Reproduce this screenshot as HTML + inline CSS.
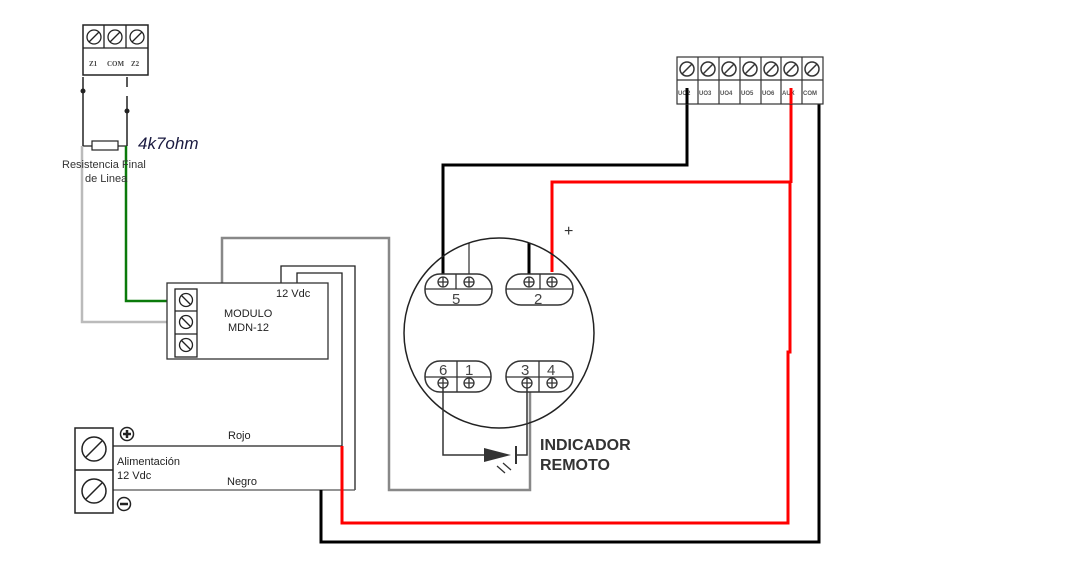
<!DOCTYPE html>
<html><head><meta charset="utf-8"><style>
html,body{margin:0;padding:0;background:#fff;width:1080px;height:586px;overflow:hidden}
svg text{font-family:"Liberation Sans",sans-serif}
</style></head><body>
<svg width="1080" height="586" viewBox="0 0 1080 586" xmlns="http://www.w3.org/2000/svg">
<rect width="1080" height="586" fill="#fff"/>
<!-- top-left terminal block -->
<g stroke="#222" fill="none" stroke-width="1.3">
<rect x="83" y="25" width="65" height="50" fill="#fff" stroke-width="1.5"/>
<line x1="83" y1="48" x2="148" y2="48"/>
<line x1="104" y1="25" x2="104" y2="48"/><line x1="126" y1="25" x2="126" y2="48"/>
<circle cx="94" cy="37" r="7"/><line x1="89" y1="42" x2="99" y2="32"/>
<circle cx="115" cy="37" r="7"/><line x1="110" y1="42" x2="120" y2="32"/>
<circle cx="137" cy="37" r="7"/><line x1="132" y1="42" x2="142" y2="32"/>
</g>
<text x="89" y="66" font-size="7" font-family="Liberation Serif" font-weight="bold" fill="#444" style="font-family:'Liberation Serif',serif">Z1</text>
<text x="107" y="66" font-size="7" font-weight="bold" fill="#444" style="font-family:'Liberation Serif',serif">COM</text>
<text x="131" y="66" font-size="7" font-weight="bold" fill="#444" style="font-family:'Liberation Serif',serif">Z2</text>
<!-- left wires -->
<line x1="83" y1="77" x2="83" y2="146" stroke="#222" stroke-width="1.5"/>
<circle cx="83" cy="91" r="2.5" fill="#222"/>
<line x1="127" y1="77" x2="127" y2="87" stroke="#222" stroke-width="1.5"/>
<line x1="127" y1="96" x2="127" y2="146" stroke="#222" stroke-width="1.5"/>
<circle cx="127" cy="111" r="2.5" fill="#222"/>
<line x1="83" y1="146" x2="127" y2="146" stroke="#222" stroke-width="1.2"/>
<rect x="92" y="141" width="26" height="9" fill="#fff" stroke="#222" stroke-width="1.2"/>
<text x="138" y="149" font-size="17" font-style="italic" fill="#1a1a40">4k7ohm</text>
<polyline points="82,146 82,322 175,322" fill="none" stroke="#bbb" stroke-width="2.5"/>
<polyline points="126,146 126,301 175,301" fill="none" stroke="#0a7a0a" stroke-width="2.5"/>
<text x="62" y="168" font-size="11" fill="#333">Resistencia Final</text>
<text x="85" y="182" font-size="11" fill="#333">de Linea</text>
<!-- gray wire to indicator 3 -->
<polyline points="222,283 222,238 389,238 389,490 530,490 530,385" fill="none" stroke="#888" stroke-width="2.5"/>
<!-- module supply wires -->
<polyline points="281,283 281,266 355,266 355,490" fill="none" stroke="#222" stroke-width="1.3"/>
<polyline points="297,283 297,273 342,273 342,446" fill="none" stroke="#222" stroke-width="1.3"/>
<!-- module -->
<rect x="167" y="283" width="161" height="76" fill="#fff" stroke="#333" stroke-width="1.3"/>
<g stroke="#222" fill="none" stroke-width="1.3">
<rect x="175" y="289" width="22" height="68"/>
<line x1="175" y1="311" x2="197" y2="311"/><line x1="175" y1="334" x2="197" y2="334"/>
<circle cx="186" cy="300" r="6.5"/><line x1="181" y1="295" x2="191" y2="305"/>
<circle cx="186" cy="322" r="6.5"/><line x1="181" y1="317" x2="191" y2="327"/>
<circle cx="186" cy="345" r="6.5"/><line x1="181" y1="340" x2="191" y2="350"/>
</g>
<text x="276" y="297" font-size="11" fill="#222">12 Vdc</text>
<text x="224" y="317" font-size="11" fill="#222">MODULO</text>
<text x="228" y="331" font-size="11" fill="#222">MDN-12</text>
<!-- power block -->
<line x1="113" y1="446" x2="342" y2="446" stroke="#222" stroke-width="1.3"/>
<line x1="113" y1="490" x2="355" y2="490" stroke="#555" stroke-width="1.3"/>
<g stroke="#222" fill="none" stroke-width="1.5">
<rect x="75" y="428" width="38" height="85"/>
<line x1="75" y1="470" x2="113" y2="470"/>
<circle cx="94" cy="449" r="12"/><line x1="86" y1="457" x2="102" y2="441"/>
<circle cx="94" cy="491" r="12"/><line x1="86" y1="499" x2="102" y2="483"/>
<circle cx="127" cy="434" r="6.5"/><line x1="123" y1="434" x2="131" y2="434" stroke-width="2.5"/><line x1="127" y1="430" x2="127" y2="438" stroke-width="2.5"/>
<circle cx="124" cy="504" r="6.5"/><line x1="120" y1="504" x2="128" y2="504" stroke-width="2.5"/>
</g>
<text x="228" y="439" font-size="11" fill="#222">Rojo</text>
<text x="227" y="485" font-size="11" fill="#222">Negro</text>
<text x="117" y="465" font-size="11" fill="#222">Alimentación</text>
<text x="117" y="479" font-size="11" fill="#222">12 Vdc</text>
<!-- red and black main wires -->
<polyline points="342,446 342,523 788,523 788,352 790,352 790,182 552,182 552,272" fill="none" stroke="#f00" stroke-width="3"/>
<line x1="791" y1="90" x2="791" y2="183" stroke="#f00" stroke-width="3"/>
<polyline points="321,490 321,542 819,542 819,72" fill="none" stroke="#000" stroke-width="3"/>
<polyline points="687,90 687,165 443,165 443,274" fill="none" stroke="#000" stroke-width="3"/>
<line x1="469" y1="243" x2="469" y2="274" stroke="#555" stroke-width="1.5"/>
<line x1="529" y1="243" x2="529" y2="274" stroke="#000" stroke-width="3"/>
<text x="564" y="236" font-size="16" fill="#333">+</text>
<!-- right terminal block -->
<g stroke="#333" fill="none" stroke-width="1.2">
<rect x="677" y="57" width="146" height="47" fill="#fff"/>
<line x1="677" y1="80" x2="823" y2="80"/>
<line x1="698" y1="57" x2="698" y2="104"/><line x1="719" y1="57" x2="719" y2="104"/><line x1="740" y1="57" x2="740" y2="104"/><line x1="761" y1="57" x2="761" y2="104"/><line x1="781" y1="57" x2="781" y2="104"/><line x1="802" y1="57" x2="802" y2="104"/>
<g stroke-width="1.5">
<circle cx="687" cy="69" r="7"/><line x1="682" y1="74" x2="692" y2="64"/>
<circle cx="708" cy="69" r="7"/><line x1="703" y1="74" x2="713" y2="64"/>
<circle cx="729" cy="69" r="7"/><line x1="724" y1="74" x2="734" y2="64"/>
<circle cx="750" cy="69" r="7"/><line x1="745" y1="74" x2="755" y2="64"/>
<circle cx="771" cy="69" r="7"/><line x1="766" y1="74" x2="776" y2="64"/>
<circle cx="791" cy="69" r="7"/><line x1="786" y1="74" x2="796" y2="64"/>
<circle cx="812" cy="69" r="7"/><line x1="807" y1="74" x2="817" y2="64"/>
</g></g>
<g font-size="6" font-weight="bold" fill="#555" style="font-family:'Liberation Serif',serif">
<text x="678" y="95">UO2</text><text x="699" y="95">UO3</text><text x="720" y="95">UO4</text><text x="741" y="95">UO5</text><text x="762" y="95">UO6</text><text x="782" y="95">AUX</text><text x="803" y="95">COM</text>
</g>
<line x1="687" y1="88" x2="687" y2="104" stroke="#000" stroke-width="3"/>
<line x1="791" y1="88" x2="791" y2="104" stroke="#f00" stroke-width="3"/>
<!-- indicator -->
<circle cx="499" cy="333" r="95" fill="none" stroke="#222" stroke-width="1.5"/>
<g stroke="#333" stroke-width="1.5" fill="#fff">
<rect x="425" y="274" width="67" height="31" rx="15"/>
<rect x="506" y="274" width="67" height="31" rx="15"/>
<rect x="425" y="361" width="66" height="31" rx="15"/>
<rect x="506" y="361" width="67" height="31" rx="15"/>
</g>
<g stroke="#333" stroke-width="1.3" fill="none">
<line x1="425" y1="289" x2="492" y2="289"/><line x1="456" y1="274" x2="456" y2="289"/>
<line x1="506" y1="289" x2="573" y2="289"/><line x1="540" y1="274" x2="540" y2="289"/>
<line x1="425" y1="377" x2="491" y2="377"/><line x1="457" y1="361" x2="457" y2="392"/>
<line x1="506" y1="377" x2="573" y2="377"/><line x1="539" y1="361" x2="539" y2="392"/>
<circle cx="443" cy="282" r="5"/><circle cx="469" cy="282" r="5"/><circle cx="529" cy="282" r="5"/><circle cx="552" cy="282" r="5"/>
<circle cx="443" cy="383" r="5"/><circle cx="469" cy="383" r="5"/><circle cx="527" cy="383" r="5"/><circle cx="552" cy="383" r="5"/>
<path d="M438 282h10M443 277v10M464 282h10M469 277v10M524 282h10M529 277v10M547 282h10M552 277v10M438 383h10M443 378v10M464 383h10M469 378v10M522 383h10M527 378v10M547 383h10M552 378v10"/>
</g>
<g font-size="15" fill="#444" style="font-family:'Liberation Mono',monospace">
<text x="452" y="304">5</text><text x="534" y="304">2</text>
<text x="439" y="375">6</text><text x="465" y="375">1</text><text x="521" y="375">3</text><text x="547" y="375">4</text>
</g>
<polyline points="443,388 443,455 490,455" fill="none" stroke="#333" stroke-width="1.5"/>
<polyline points="516,455 527,455 527,388" fill="none" stroke="#333" stroke-width="1.5"/>
<polygon points="484,448 511,455 484,462" fill="#333"/>
<line x1="516" y1="446" x2="516" y2="464" stroke="#333" stroke-width="2"/>
<path d="M497 466l8 7M503 463l8 7" stroke="#333" stroke-width="1.3"/>
<text x="540" y="450" font-size="16" font-weight="bold" fill="#333">INDICADOR</text>
<text x="540" y="470" font-size="16" font-weight="bold" fill="#333">REMOTO</text>
</svg>
</body></html>
